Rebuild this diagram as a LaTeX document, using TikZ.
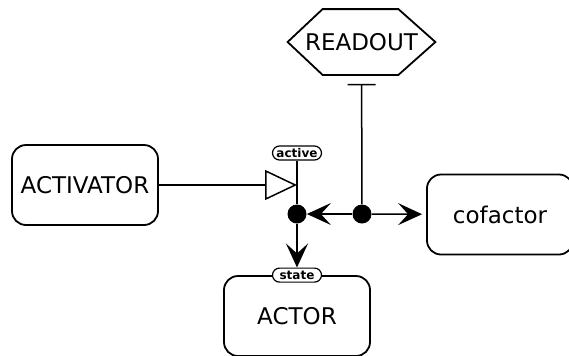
\documentclass[tikz,border=0pt]{standalone}
\usepackage{fontspec}
\setmainfont{DejaVu Sans}
\usetikzlibrary{arrows.meta, positioning, calc}
\tikzset{
  entitybox/.style={
    draw, rounded corners=7pt, line width=0.9pt, align=center,
    font=\fontsize{11.5}{13}\selectfont, fill=white,
    minimum width=73pt, minimum height=40pt
  },
  readoutbox/.style={
    font=\fontsize{11.5}{13}\selectfont,
    minimum width=73.5pt, minimum height=32.5pt, inner sep=0pt
  },
  hexline/.style={line width=0.9pt, line join=miter},
  taglabel/.style={
    draw, rounded corners=3.5pt, line width=0.6pt, fill=white,
    font=\fontsize{6}{6}\selectfont\bfseries,
    minimum width=24.5pt, minimum height=7pt, inner sep=0.6pt
  },
  junction/.style={
    circle, fill=black, minimum size=9.5pt, inner sep=0pt
  },
  linkline/.style={line width=0.75pt},
  flowarrow/.style={linkline, -{Stealth[length=12pt, width=11pt, inset=5pt]}},
  triggerarrow/.style={linkline, -{Triangle[open, length=16pt, width=15pt, line width=0.75pt]}},
  blockarrow/.style={linkline, {Bar[width=14pt, line width=0.75pt]}-, shorten <=4.5pt},
}
\begin{document}
\begin{tikzpicture}[x=0.5pt, y=-0.5pt]
  \useasboundingbox (0,0) rectangle (569,355);

  % Entities
  \node[entitybox] (activator) at (85,185) {ACTIVATOR};
  \node[entitybox] (cofactor) at (500,214.5) {cofactor};
  \node[entitybox] (actor) at (297,316) {ACTOR};
  \node[readoutbox] (readout) at (361.5,42) {READOUT};
  \draw[hexline] (readout.west) -- ($(readout.north west)+(35,0)$)
    -- ($(readout.north east)+(-37,0)$) -- (readout.east)
    -- ($(readout.south east)+(-37,0)$) -- ($(readout.south west)+(35,0)$)
    -- cycle;

  % Tags
  \node[taglabel] (activetag) at (297,153) {active};
  \node[taglabel] (statetag) at (actor.north) {state};

  % Junctions
  \node[junction] (jleft) at (297,214) {};
  \node[junction] (jright) at (362,214) {};

  % Connectors
  \draw[triggerarrow] (activator.east) -- (activator.east -| jleft);
  \draw[linkline] (activetag) -- (jleft);
  \draw[flowarrow] (jleft) -- (statetag);
  \draw[blockarrow] (readout) -- (jright);
  \draw[flowarrow] (jright) -- (jleft);
  \draw[flowarrow, shorten >=2pt] (jright) -- (cofactor);
\end{tikzpicture}
\end{document}
